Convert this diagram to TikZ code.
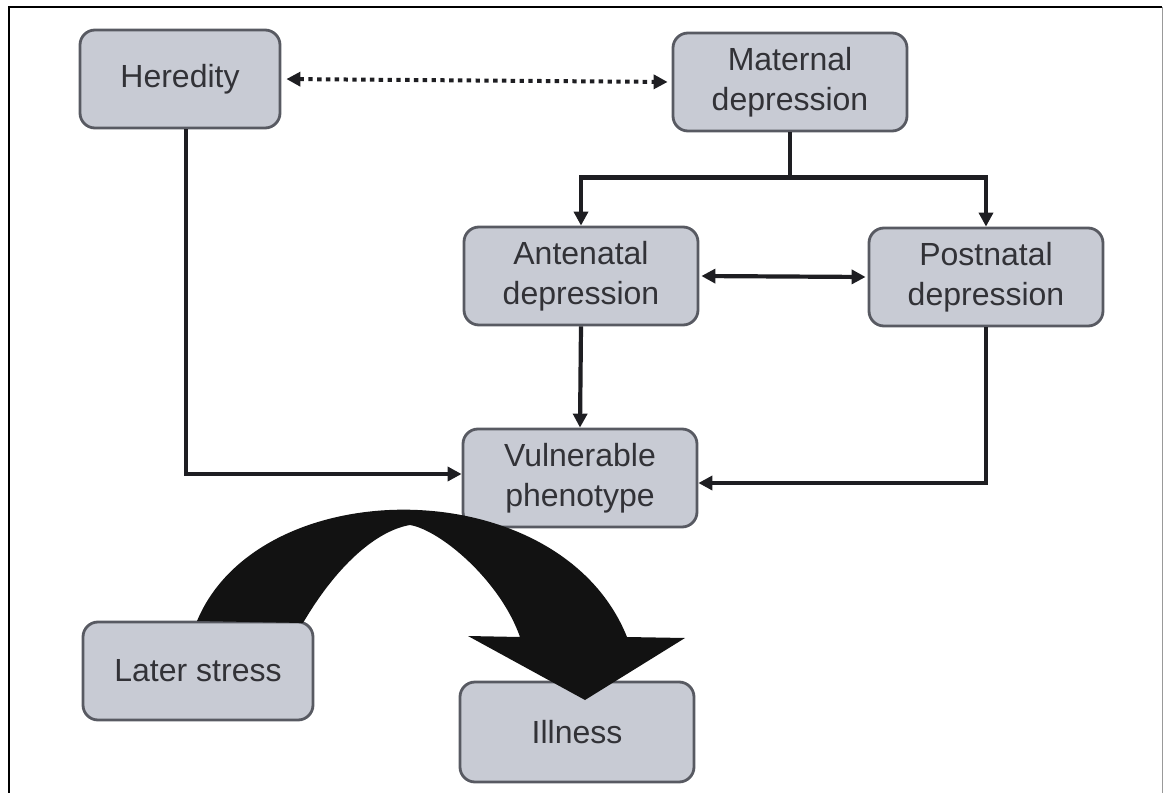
\documentclass[tikz,border=0pt]{standalone}
\usepackage{fontspec}
\setmainfont{Liberation Sans}
\usetikzlibrary{arrows.meta}
\definecolor{boxfill}{RGB}{200,203,212}
\definecolor{boxline}{RGB}{88,90,98}
\definecolor{txt}{RGB}{50,50,55}
\definecolor{conn}{RGB}{30,30,34}
\tikzset{
  box/.style={draw=boxline, line width=1.4pt, fill=boxfill, rounded corners=7.5pt,
    align=center, font=\fontsize{16}{20}\selectfont, text=txt,
    minimum width=117pt, minimum height=49pt, inner sep=2pt},
  arr/.style={draw=conn, line width=2.1pt, -{Triangle[length=7pt,width=7pt]}},
  darr/.style={draw=conn, line width=2.1pt, {Triangle[length=7pt,width=7pt]}-{Triangle[length=7pt,width=7pt]}},
  dotarr/.style={draw=conn, line width=2pt, dash pattern=on 2.2pt off 2.2pt,
    {Triangle[length=7pt,width=7pt]}-{Triangle[length=7pt,width=7pt]}},
}
\begin{document}
\begin{tikzpicture}[x=0.5pt,y=-0.5pt]
\useasboundingbox (0,0) rectangle (1164,793);
% frame
\draw[line width=1.2pt, black] (9,820) -- (9,7) -- (1162,7);
\draw[line width=0.4pt, black!40] (1162,7) -- (1162,820);
% nodes
\node[box, minimum width=100pt] (her) at (180,79) {Heredity};
\node[box] (mat) at (790,82) {Maternal\\depression};
\node[box] (ant) at (581,276) {Antenatal\\depression};
\node[box] (post) at (986,277) {Postnatal\\depression};
\node[box] (vul) at (580,478) {Vulnerable\\phenotype};
\node[box, minimum width=115pt] (later) at (198,671) {Later stress};
\node[box, minimum height=50pt] (ill) at (577,732) {Illness};
% connectors
\draw[dotarr, shorten <=2.5pt, shorten >=2pt] (her.east) -- (mat.west);
\draw[arr] (mat.south) -- ++(0,45) -| (ant.north);
\draw[arr] (mat.south) -- ++(0,45) -| (post.north);
\draw[darr, shorten <=1pt, shorten >=1pt] (ant.east) -- (post.west);
\draw[arr] (ant.south) -- (vul.north);
\draw[arr] ([xshift=3pt]her.south) |- ([yshift=2pt]vul.west);
\draw[arr] (post.south) |- ([yshift=-2.5pt]vul.east);
% big curved arrow from Later stress to Illness
\fill[black!93] (197,621) .. controls (260,470) and (560,470) .. (627,637)
  -- (685,638) -- (585,700) -- (468,636) -- (520,637)
  .. controls (500,580) and (440,530) .. (410,525)
  .. controls (380,530) and (340,560) .. (303,623) -- cycle;
\end{tikzpicture}
\end{document}
